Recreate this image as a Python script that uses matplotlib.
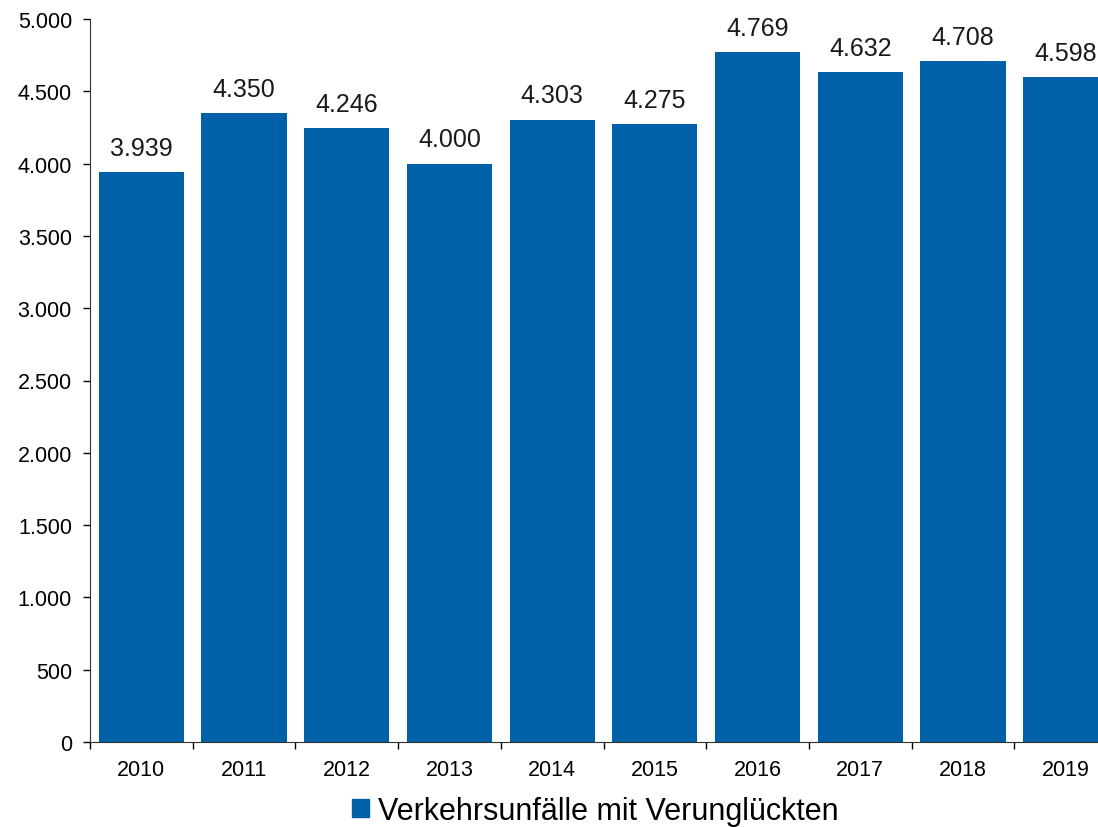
import matplotlib
matplotlib.use("Agg")
import matplotlib.pyplot as plt
from matplotlib.ticker import FuncFormatter
from matplotlib.patches import Patch

plt.rcParams['font.family'] = ['Liberation Sans', 'DejaVu Sans']

years = ["2010", "2011", "2012", "2013", "2014", "2015", "2016", "2017", "2018", "2019"]
unfaelle = [3939, 4350, 4246, 4000, 4303, 4275, 4769, 4632, 4708, 4598]
series_name = "Verkehrsunfälle mit Verunglückten"
bar_color = "#0060a8"


def de_fmt(v, pos=None):
	return "{:,.0f}".format(v).replace(",", ".")


fig = plt.figure(figsize=(10.98, 8.28), dpi=100)
# axes runs past the right edge, like the cropped original
ax = fig.add_axes([90 / 1098, 1 - 743 / 828, 1027 / 1098, 723 / 828])

x = list(range(len(years)))
bars = ax.bar(x, unfaelle, width=0.83, color=bar_color)
for xi, v in zip(x, unfaelle):
	ax.text(xi, v + 85, de_fmt(v), ha="center", va="bottom", fontsize=18, color="#1a1a1a")

ax.set_xlim(-0.5, len(years) - 0.5)
ax.set_ylim(0, 5000)
ax.set_yticks(range(0, 5001, 500))
ax.yaxis.set_major_formatter(FuncFormatter(de_fmt))
ax.set_xticks(x)
ax.set_xticklabels(years)
ax.set_xticks([i - 0.5 for i in range(len(years) + 1)], minor=True)
ax.tick_params(axis="x", which="major", length=0, labelsize=15.5, pad=12)
ax.tick_params(axis="x", which="minor", length=5, direction="out", width=1)
ax.tick_params(axis="y", length=5, width=1, labelsize=15.5, pad=8)

for s in ["top", "right"]:
	ax.spines[s].set_visible(False)
ax.spines["left"].set_color("#333333")
ax.spines["bottom"].set_color("#333333")

fig.legend(handles=[Patch(color=bar_color)], labels=[series_name], loc="center",
	bbox_to_anchor=(595 / 1098, 1 - 812 / 828), frameon=False, fontsize=22,
	handlelength=0.55, handleheight=0.55, handletextpad=0.3,
	borderpad=0, borderaxespad=0)

fig.savefig("out.png", dpi=100)
